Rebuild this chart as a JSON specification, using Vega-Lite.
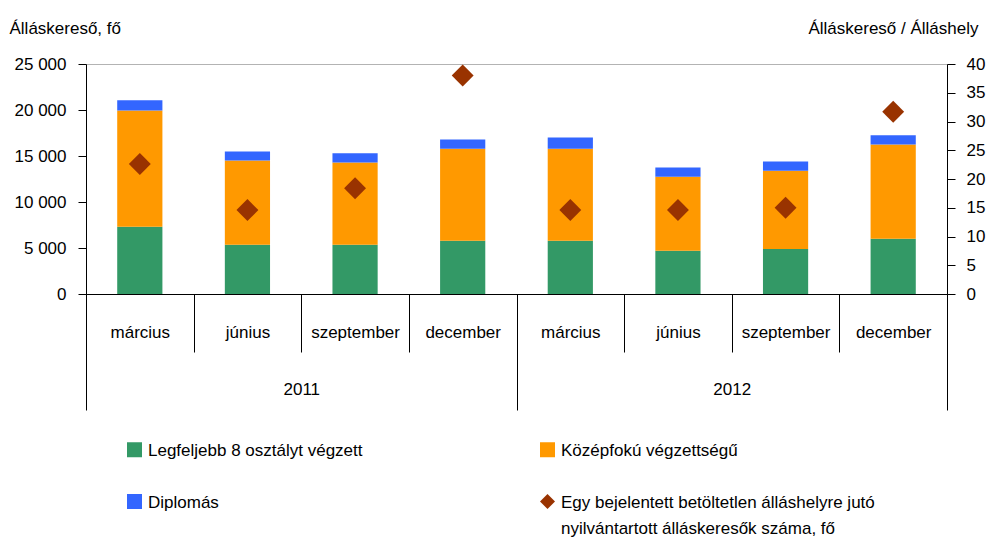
{
  "$schema": "https://vega.github.io/schema/vega-lite/v6.json",
  "width": 861,
  "height": 230,
  "autosize": {"type": "none"},
  "padding": {"left": 86, "top": 64, "right": 42, "bottom": 244},
  "background": "white",
  "config": {
    "font": "Liberation Sans",
    "view": {"stroke": "#b3b3b3", "strokeWidth": 1},
    "axis": {
      "labelFontSize": 17, "labelColor": "#000", "titleColor": "#000",
      "titleFontSize": 17, "titleFontWeight": "normal",
      "domainColor": "#000", "tickColor": "#000", "grid": false,
      "labelFont": "Liberation Sans", "titleFont": "Liberation Sans"
    },
    "style": {"guide-label": {"lineHeight": 26, "dy": 6}}
  },
  "datasets": {
    "bars": [
      {"period": "2011 március", "year": "2011", "series": "Legfeljebb 8 osztályt végzett", "value": 7300},
      {"period": "2011 március", "year": "2011", "series": "Középfokú végzettségű", "value": 12650},
      {"period": "2011 március", "year": "2011", "series": "Diplomás", "value": 1100},
      {"period": "2011 június", "year": "2011", "series": "Legfeljebb 8 osztályt végzett", "value": 5350},
      {"period": "2011 június", "year": "2011", "series": "Középfokú végzettségű", "value": 9150},
      {"period": "2011 június", "year": "2011", "series": "Diplomás", "value": 980},
      {"period": "2011 szeptember", "year": "2011", "series": "Legfeljebb 8 osztályt végzett", "value": 5350},
      {"period": "2011 szeptember", "year": "2011", "series": "Középfokú végzettségű", "value": 8950},
      {"period": "2011 szeptember", "year": "2011", "series": "Diplomás", "value": 1000},
      {"period": "2011 december", "year": "2011", "series": "Legfeljebb 8 osztályt végzett", "value": 5800},
      {"period": "2011 december", "year": "2011", "series": "Középfokú végzettségű", "value": 10000},
      {"period": "2011 december", "year": "2011", "series": "Diplomás", "value": 1000},
      {"period": "2012 március", "year": "2012", "series": "Legfeljebb 8 osztályt végzett", "value": 5800},
      {"period": "2012 március", "year": "2012", "series": "Középfokú végzettségű", "value": 10000},
      {"period": "2012 március", "year": "2012", "series": "Diplomás", "value": 1200},
      {"period": "2012 június", "year": "2012", "series": "Legfeljebb 8 osztályt végzett", "value": 4700},
      {"period": "2012 június", "year": "2012", "series": "Középfokú végzettségű", "value": 8050},
      {"period": "2012 június", "year": "2012", "series": "Diplomás", "value": 1000},
      {"period": "2012 szeptember", "year": "2012", "series": "Legfeljebb 8 osztályt végzett", "value": 4900},
      {"period": "2012 szeptember", "year": "2012", "series": "Középfokú végzettségű", "value": 8500},
      {"period": "2012 szeptember", "year": "2012", "series": "Diplomás", "value": 1000},
      {"period": "2012 december", "year": "2012", "series": "Legfeljebb 8 osztályt végzett", "value": 6000},
      {"period": "2012 december", "year": "2012", "series": "Középfokú végzettségű", "value": 10250},
      {"period": "2012 december", "year": "2012", "series": "Diplomás", "value": 1000}
    ],
    "ratio": [
      {"period": "2011 március", "year": "2011", "series": "Egy bejelentett betöltetlen álláshelyre jutó nyilvántartott álláskeresők száma, fő", "ratio": 22.6},
      {"period": "2011 június", "year": "2011", "series": "Egy bejelentett betöltetlen álláshelyre jutó nyilvántartott álláskeresők száma, fő", "ratio": 14.6},
      {"period": "2011 szeptember", "year": "2011", "series": "Egy bejelentett betöltetlen álláshelyre jutó nyilvántartott álláskeresők száma, fő", "ratio": 18.4},
      {"period": "2011 december", "year": "2011", "series": "Egy bejelentett betöltetlen álláshelyre jutó nyilvántartott álláskeresők száma, fő", "ratio": 38.0},
      {"period": "2012 március", "year": "2012", "series": "Egy bejelentett betöltetlen álláshelyre jutó nyilvántartott álláskeresők száma, fő", "ratio": 14.6},
      {"period": "2012 június", "year": "2012", "series": "Egy bejelentett betöltetlen álláshelyre jutó nyilvántartott álláskeresők száma, fő", "ratio": 14.6},
      {"period": "2012 szeptember", "year": "2012", "series": "Egy bejelentett betöltetlen álláshelyre jutó nyilvántartott álláskeresők száma, fő", "ratio": 15.0},
      {"period": "2012 december", "year": "2012", "series": "Egy bejelentett betöltetlen álláshelyre jutó nyilvántartott álláskeresők száma, fő", "ratio": 31.7}
    ]
  },
  "layer": [
    {
      "data": {"name": "bars"},
      "mark": {"type": "bar", "width": {"band": 0.42}},
      "encoding": {
        "x": {
          "field": "period", "type": "nominal", "sort": null,
          "scale": {"type": "band", "paddingInner": 0, "paddingOuter": 0},
          "axis": {
            "orient": "bottom", "title": null,
            "labelExpr": "split(datum.label, ' ')[1]",
            "tickBand": "extent", "tickSize": 58, "labelPadding": -34, "labelAngle": 0
          }
        },
        "y": {
          "field": "value", "type": "quantitative",
          "scale": {"domain": [0, 25000]},
          "axis": {
            "title": "Álláskereső, fő",
            "values": [0, 5000, 10000, 15000, 20000, 25000],
            "labelExpr": "replace(format(datum.value, ','), ',', ' ')",
            "tickSize": 8, "labelPadding": 12, "labelOffset": -6,
            "titleAngle": 0, "titleAlign": "left", "titleBaseline": "alphabetic",
            "titleX": -77, "titleY": -31
          }
        },
        "color": {
          "field": "series", "type": "nominal", "title": null,
          "scale": {
            "domain": ["Legfeljebb 8 osztályt végzett", "Középfokú végzettségű", "Diplomás", "Egy bejelentett betöltetlen álláshelyre jutó nyilvántartott álláskeresők száma, fő"],
            "range": ["#339966", "#FF9900", "#3366FF", "#993300"]
          },
          "legend": {
            "orient": "none", "legendX": 40, "legendY": 377,
            "columns": 2, "direction": "horizontal",
            "columnPadding": 176, "rowPadding": 34, "padding": 0,
            "symbolSize": 225, "symbolStrokeWidth": 0,
            "labelFontSize": 17, "labelColor": "#000", "labelLimit": 600, "labelOffset": 5,
            "labelBaseline": "alphabetic",
            "labelExpr": "indexof(datum.label, 'Egy') == 0 ? ['Egy bejelentett betöltetlen álláshelyre jutó', 'nyilvántartott álláskeresők száma, fő'] : datum.label"
          }
        },
        "order": {"field": "series", "sort": "descending"}
      }
    },
    {
      "data": {"name": "ratio"},
      "mark": {"type": "point", "filled": true, "opacity": 1, "size": 480},
      "encoding": {
        "x": {
          "field": "period", "type": "nominal", "sort": null,
          "scale": {"type": "band", "paddingInner": 0, "paddingOuter": 0},
          "axis": null
        },
        "y": {
          "field": "ratio", "type": "quantitative",
          "scale": {"domain": [0, 40]},
          "axis": {
            "orient": "right", "title": "Álláskereső / Álláshely",
            "values": [0, 5, 10, 15, 20, 25, 30, 35, 40],
            "tickSize": 8, "labelPadding": 11, "labelOffset": -6,
            "titleAngle": 0, "titleAlign": "right", "titleBaseline": "alphabetic",
            "titleX": 31, "titleY": -31
          }
        },
        "color": {
          "field": "series", "type": "nominal", "title": null,
          "scale": {
            "domain": ["Legfeljebb 8 osztályt végzett", "Középfokú végzettségű", "Diplomás", "Egy bejelentett betöltetlen álláshelyre jutó nyilvántartott álláskeresők száma, fő"],
            "range": ["#339966", "#FF9900", "#3366FF", "#993300"]
          }
        },
        "shape": {
          "field": "series", "type": "nominal", "title": null,
          "scale": {
            "domain": ["Legfeljebb 8 osztályt végzett", "Középfokú végzettségű", "Diplomás", "Egy bejelentett betöltetlen álláshelyre jutó nyilvántartott álláskeresők száma, fő"],
            "range": ["square", "square", "square", "diamond"]
          },
          "legend": {
            "orient": "none", "legendX": 40, "legendY": 377,
            "columns": 2, "direction": "horizontal",
            "columnPadding": 176, "rowPadding": 34, "padding": 0,
            "symbolSize": 225, "symbolStrokeWidth": 0,
            "labelFontSize": 17, "labelColor": "#000", "labelLimit": 600, "labelOffset": 5,
            "labelBaseline": "alphabetic",
            "labelExpr": "indexof(datum.label, 'Egy') == 0 ? ['Egy bejelentett betöltetlen álláshelyre jutó', 'nyilvántartott álláskeresők száma, fő'] : datum.label"
          }
        }
      }
    },
    {
      "data": {"name": "ratio"},
      "mark": {"type": "point", "opacity": 0},
      "encoding": {
        "x": {
          "field": "year", "type": "nominal",
          "scale": {"type": "band", "paddingInner": 0, "paddingOuter": 0},
          "axis": {
            "orient": "bottom", "title": null, "domain": false,
            "tickBand": "extent", "tickSize": 116, "labelPadding": -35, "labelAngle": 0
          }
        }
      }
    }
  ],
  "resolve": {"scale": {"x": "independent", "y": "independent"}}
}
